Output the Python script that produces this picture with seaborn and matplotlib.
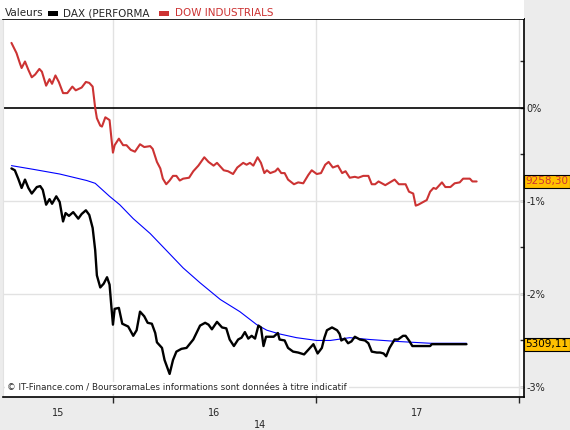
import matplotlib
matplotlib.use("Agg")
import matplotlib.pyplot as plt
import matplotlib.transforms as mtransforms
from matplotlib.patches import Rectangle
import pandas as pd
import seaborn as sns

# ---- data (hours since 00:00 on the 14/15, % change) ----
dow_hours = [12.0, 12.6, 13.0, 13.2, 13.6, 14.0, 14.4, 14.8, 15.3, 15.6, 16.1, 16.5, 16.8, 17.2, 17.6,
             18.1, 18.6, 19.2, 19.6, 20.3, 20.8, 21.2, 21.6, 21.9, 22.1, 22.5, 22.7, 23.1, 23.6, 23.8,
             24.0, 24.2, 24.7, 25.2, 25.6, 26.1, 26.6, 27.2, 27.7, 28.4, 28.7, 29.2, 29.6, 29.9, 30.3,
             30.7, 31.1, 31.5, 31.9, 32.3, 33.0, 33.5, 34.1, 34.8, 35.3, 35.9, 36.3, 36.7, 37.1, 37.6,
             38.2, 38.7, 39.4, 39.8, 40.2, 40.6, 41.1, 41.5, 41.9, 42.2, 42.6, 43.2, 43.5, 43.9, 44.3,
             44.7, 45.4, 45.9, 46.5, 47.1, 47.5, 48.1, 48.6, 49.1, 49.5, 50.0, 50.6, 51.1, 51.5, 52.0,
             52.6, 53.0, 53.6, 54.2, 54.6, 55.0, 55.4, 56.2, 57.3, 57.8, 58.6, 59.0, 59.5, 59.8, 60.1,
             60.7, 61.1, 61.5, 61.9, 62.2, 62.9, 63.3, 63.9, 64.4, 65.0, 65.4, 66.2, 66.5, 67.0]
dow_pct = [0.70, 0.59, 0.48, 0.43, 0.50, 0.41, 0.33, 0.36, 0.42, 0.39, 0.24, 0.31, 0.26, 0.35, 0.28,
           0.16, 0.16, 0.23, 0.19, 0.22, 0.28, 0.27, 0.23, 0.00, -0.11, -0.19, -0.20, -0.10, -0.13, -0.31,
           -0.48, -0.40, -0.33, -0.40, -0.40, -0.45, -0.47, -0.39, -0.42, -0.41, -0.44, -0.58, -0.65, -0.76, -0.82,
           -0.78, -0.73, -0.73, -0.78, -0.76, -0.75, -0.68, -0.62, -0.53, -0.58, -0.62, -0.59, -0.63, -0.67, -0.68,
           -0.71, -0.64, -0.59, -0.61, -0.59, -0.62, -0.53, -0.59, -0.70, -0.67, -0.70, -0.68, -0.65, -0.70, -0.70,
           -0.77, -0.82, -0.80, -0.81, -0.72, -0.67, -0.71, -0.70, -0.61, -0.58, -0.64, -0.62, -0.70, -0.68, -0.75,
           -0.74, -0.75, -0.73, -0.73, -0.82, -0.82, -0.79, -0.83, -0.77, -0.82, -0.82, -0.90, -0.92, -1.05, -1.04,
           -1.01, -0.99, -0.90, -0.86, -0.87, -0.80, -0.85, -0.85, -0.81, -0.80, -0.76, -0.76, -0.79, -0.79]

dax_hours = [12.0, 12.4, 12.8, 13.2, 13.6, 14.0, 14.4, 15.0, 15.4, 15.7, 16.1, 16.5, 16.8, 17.3, 17.7,
             18.1, 18.4, 18.8, 19.3, 19.9, 20.3, 20.8, 21.2, 21.6, 21.9, 22.1, 22.5, 22.9, 23.3, 23.6,
             23.8, 24.0, 24.2, 24.7, 25.1, 25.8, 26.4, 26.8, 27.2, 27.7, 28.1, 28.6, 29.0, 29.2, 29.8,
             30.1, 30.7, 31.1, 31.5, 32.1, 32.7, 33.5, 34.3, 34.9, 35.3, 35.7, 36.3, 36.9, 37.4, 37.8,
             38.3, 38.8, 39.2, 39.6, 40.0, 40.4, 40.8, 41.2, 41.5, 41.8, 42.1, 42.5, 43.0, 43.5, 43.7,
             44.3, 44.7, 45.3, 45.9, 46.6, 47.1, 47.7, 48.2, 48.7, 49.0, 49.3, 49.9, 50.5, 50.8, 51.0,
             51.4, 51.8, 52.2, 52.6, 53.2, 53.8, 54.2, 54.6, 55.2, 55.6, 56.0, 56.3, 56.7, 57.3, 57.7,
             58.3, 58.6, 59.0, 59.4, 61.5, 61.7, 65.8]
dax_pct = [-0.65, -0.67, -0.76, -0.86, -0.77, -0.86, -0.92, -0.85, -0.84, -0.88, -1.04, -0.98, -1.03, -0.95, -1.01,
           -1.22, -1.13, -1.16, -1.12, -1.19, -1.14, -1.10, -1.15, -1.29, -1.53, -1.80, -1.93, -1.89, -1.82, -1.90,
           -2.12, -2.33, -2.16, -2.15, -2.32, -2.35, -2.45, -2.39, -2.19, -2.24, -2.31, -2.32, -2.42, -2.52, -2.58,
           -2.71, -2.86, -2.71, -2.62, -2.59, -2.58, -2.49, -2.34, -2.31, -2.33, -2.38, -2.30, -2.36, -2.37, -2.49,
           -2.56, -2.49, -2.47, -2.41, -2.48, -2.45, -2.48, -2.34, -2.36, -2.56, -2.46, -2.46, -2.46, -2.42, -2.49,
           -2.50, -2.58, -2.62, -2.63, -2.65, -2.60, -2.54, -2.64, -2.58, -2.47, -2.39, -2.36, -2.39, -2.43, -2.50,
           -2.48, -2.53, -2.51, -2.46, -2.49, -2.50, -2.53, -2.62, -2.63, -2.63, -2.64, -2.67, -2.58, -2.49, -2.49,
           -2.45, -2.45, -2.50, -2.56, -2.56, -2.54, -2.54]

avg_hours = [12.0, 14.6, 17.7, 20.9, 21.9, 23.6, 24.8, 26.4, 28.4, 30.3, 32.3, 34.3, 36.7, 39.0, 41.0,
             42.2, 43.7, 45.7, 48.1, 49.7, 52.0, 54.4, 57.5, 61.5, 65.8]
avg_pct = [-0.62, -0.66, -0.71, -0.78, -0.81, -0.95, -1.04, -1.19, -1.35, -1.53, -1.72, -1.88, -2.06, -2.19, -2.33,
           -2.39, -2.43, -2.47, -2.50, -2.50, -2.47, -2.49, -2.51, -2.53, -2.53]

y_ticks = [0, -1, -2, -3]
y_tick_labels = ["0%", "-1%", "-2%", "-3%"]
day_bounds = [24, 48, 72]
day_label_pos = [17.5, 36, 60]
day_labels = ["15", "16", "17"]
month_label = "14"
dow_last = "9258,30"
dax_last = "5309,11"

RED = "#CC3333"
GOLD = "#FFC000"
GRID = "#E2E2E2"

sns.set_style("white")
plt.rcParams["font.family"] = ["DejaVu Sans"]

fig = plt.figure(figsize=(5.7, 4.3), dpi=100, facecolor="#ECECEC")
# white band holding the legend
fig.patches.append(Rectangle((0, 0.956), 524 / 570, 0.044, transform=fig.transFigure,
                             facecolor="white", edgecolor="none", zorder=0))
ax = fig.add_axes([3 / 570, 33 / 430, 521 / 570, 378 / 430])
ax.set_facecolor("white")

df_dow = pd.DataFrame({"h": dow_hours, "pct": dow_pct})
df_dax = pd.DataFrame({"h": dax_hours, "pct": dax_pct})
df_avg = pd.DataFrame({"h": avg_hours, "pct": avg_pct})

sns.lineplot(data=df_avg, x="h", y="pct", ax=ax, color="#0000FF", linewidth=0.8, zorder=3)
sns.lineplot(data=df_dow, x="h", y="pct", ax=ax, color=RED, linewidth=1.5, zorder=4)
sns.lineplot(data=df_dax, x="h", y="pct", ax=ax, color="black", linewidth=1.7, zorder=4)

ax.set_xlim(11.0, 72.6)
ax.set_ylim(-3.108, 0.957)
ax.set_xlabel("")
ax.set_ylabel("")

# grid
for b in day_bounds:
    ax.axvline(b, color=GRID, linewidth=1, zorder=1)
for t in y_ticks[1:]:
    ax.axhline(t, color=GRID, linewidth=1, zorder=1)
ax.axhline(0, color="black", linewidth=1.2, zorder=2)

# y axis on the right
ax.yaxis.tick_right()
ax.set_yticks(y_ticks)
ax.set_yticklabels(y_tick_labels)
ax.set_yticks([0.5, -0.5, -1.5, -2.5], minor=True)
ax.tick_params(axis="y", which="both", direction="in", length=3, width=1, pad=2,
               labelsize=7, right=True, left=False)

# x axis: tick marks at day boundaries, labels centred on days
ax.set_xticks(day_bounds)
ax.set_xticklabels([])
ax.set_xticks(day_label_pos, minor=True)
ax.set_xticklabels(day_labels, minor=True)
ax.tick_params(axis="x", which="major", direction="out", length=4, width=1, bottom=True)
ax.tick_params(axis="x", which="minor", length=0, labelsize=7, pad=8)
fig.text(260 / 570, 1 - 425 / 430, month_label, fontsize=7, ha="center", va="center")

for side in ["top", "right", "bottom"]:
    ax.spines[side].set_color("black")
    ax.spines[side].set_linewidth(1.2)
ax.spines["left"].set_color(GRID)

# last value tags
tr = mtransforms.blended_transform_factory(ax.transAxes, ax.transData)
ax.text(1.003, dow_pct[-1], dow_last, transform=tr, ha="left", va="center", fontsize=7.5,
        color=RED, bbox=dict(boxstyle="square,pad=0.15", facecolor=GOLD, edgecolor="black", linewidth=0.8))
ax.text(1.003, dax_pct[-1], dax_last, transform=tr, ha="left", va="center", fontsize=7.5,
        color="black", bbox=dict(boxstyle="square,pad=0.15", facecolor=GOLD, edgecolor="black", linewidth=0.8))

# source note
ax.text(0.008, 0.012, "© IT-Finance.com / BoursoramaLes informations sont données à titre indicatif",
        transform=ax.transAxes, fontsize=6.3, ha="left", va="bottom",
        bbox=dict(boxstyle="square,pad=0.2", facecolor="white", edgecolor="none"))

# legend row
fy = 1 - 13 / 430
fig.text(5 / 570, fy, "Valeurs", fontsize=7.5, va="center", ha="left")
fig.patches.append(Rectangle((48 / 570, fy - 0.006), 10 / 570, 0.011, transform=fig.transFigure,
                             facecolor="black", edgecolor="none"))
fig.text(63 / 570, fy, "DAX (PERFORMA", fontsize=7.5, va="center", ha="left")
fig.patches.append(Rectangle((159 / 570, fy - 0.006), 10 / 570, 0.011, transform=fig.transFigure,
                             facecolor=RED, edgecolor="none"))
fig.text(175 / 570, fy, "DOW INDUSTRIALS", fontsize=7.5, va="center", ha="left", color=RED)

fig.savefig("out.png", dpi=100, facecolor=fig.get_facecolor())
